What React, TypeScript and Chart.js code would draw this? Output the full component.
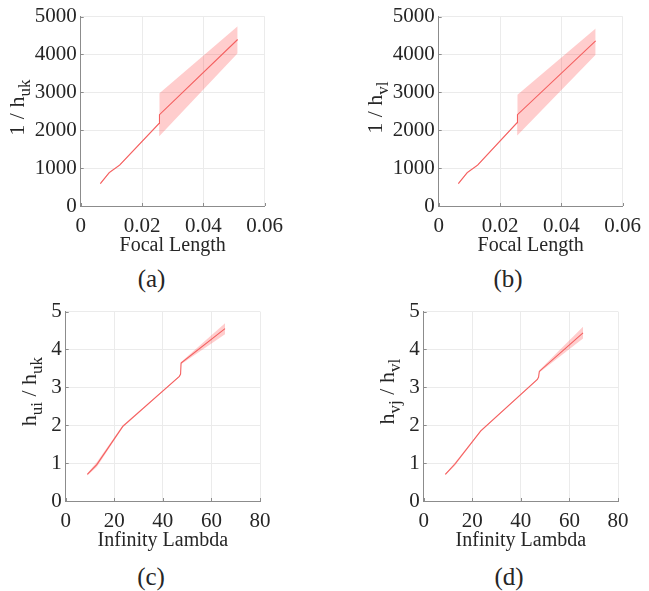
import React, { useEffect, useRef } from 'react';
import { Chart, registerables } from 'chart.js';

Chart.register(...registerables);

// ---------- data ----------
const focalX_a = [0.0064, 0.0093, 0.0127, 0.0256, 0.0257, 0.0512];
const invHuk_mean = [590, 880, 1080, 2180, 2410, 4395];
const invHuk_upper = [610, 900, 1100, 2200, 2975, 4745];
const invHuk_lower = [570, 860, 1060, 2160, 1850, 4030];

const focalX_b = [0.0064, 0.0093, 0.0127, 0.0256, 0.0257, 0.0512];
const invHvl_mean = [590, 880, 1080, 2200, 2410, 4360];
const invHvl_upper = [610, 900, 1100, 2220, 2940, 4685];
const invHvl_lower = [570, 860, 1060, 2180, 1870, 3990];

const lambdaX_c = [8.9, 12.8, 23.5, 46.8, 47.3, 47.5, 65.6];
const ratioU_mean = [0.70, 0.96, 1.97, 3.29, 3.35, 3.64, 4.55];
const ratioU_upper = [0.73, 1.02, 2.0, 3.3, 3.36, 3.67, 4.69];
const ratioU_lower = [0.67, 0.9, 1.94, 3.28, 3.34, 3.61, 4.4];

const lambdaX_d = [8.9, 12.8, 23.5, 46.8, 47.3, 47.6, 65.6];
const ratioV_mean = [0.70, 0.97, 1.85, 3.21, 3.27, 3.42, 4.44];
const ratioV_upper = [0.72, 1.01, 1.87, 3.22, 3.28, 3.45, 4.6];
const ratioV_lower = [0.68, 0.93, 1.83, 3.2, 3.26, 3.39, 4.29];

const focalTicks = { max: 0.06, step: 0.02 };
const lambdaTicks = { max: 80, step: 20 };
const invTicks = { max: 5000, step: 1000 };
const ratioTicks = { max: 5, step: 1 };

// ---------- styles ----------
const FONT = "'Liberation Serif', 'Times New Roman', Times, serif";
const LINE = '#f46060';
const BAND = 'rgba(255, 60, 60, 0.26)';
const GRID = '#ebebeb';
const AXIS = '#8c8c8c';
const TEXT = '#262626';

type Seg = { t: string; sub?: boolean };

const yTitlePlugin = {
  id: 'yTitleRich',
  afterDraw(chart: any, _args: any, opts: any) {
    const { ctx, chartArea } = chart;
    const segs: Seg[] = opts.segments || [];
    const mainFont = `22px ${FONT}`;
    const subFont = `17px ${FONT}`;
    ctx.save();
    let total = 0;
    const widths = segs.map((s) => {
      ctx.font = s.sub ? subFont : mainFont;
      const w = ctx.measureText(s.t).width;
      total += w;
      return w;
    });
    const cx = chartArea.left - opts.baseline;
    const cy = chartArea.top + opts.center;
    ctx.translate(cx, cy);
    ctx.rotate(-Math.PI / 2);
    ctx.fillStyle = TEXT;
    ctx.textBaseline = 'alphabetic';
    ctx.textAlign = 'left';
    let x = -total / 2;
    segs.forEach((s, i) => {
      ctx.font = s.sub ? subFont : mainFont;
      ctx.fillText(s.t, x, s.sub ? opts.subShift : 0);
      x += widths[i];
    });
    ctx.restore();
  },
};

const tickMarkPlugin = {
  id: 'inwardTicks',
  afterDraw(chart: any) {
    const { ctx, chartArea, scales } = chart;
    ctx.save();
    ctx.strokeStyle = AXIS;
    ctx.lineWidth = 1;
    ctx.beginPath();
    scales.x.ticks.forEach((t: any) => {
      const px = Math.round(scales.x.getPixelForValue(t.value)) + 0.5;
      ctx.moveTo(px, chartArea.bottom);
      ctx.lineTo(px, chartArea.bottom - 3);
    });
    scales.y.ticks.forEach((t: any) => {
      const py = Math.round(scales.y.getPixelForValue(t.value)) + 0.5;
      ctx.moveTo(chartArea.left, py);
      ctx.lineTo(chartArea.left + 3, py);
    });
    ctx.stroke();
    ctx.restore();
  },
};

const fmt = (v: number) => String(Math.round(v * 1e6) / 1e6);

interface PanelProps {
  left: number;
  top: number;
  xs: number[];
  mean: number[];
  upper: number[];
  lower: number[];
  xMax: number;
  xStep: number;
  yMax: number;
  yStep: number;
  xTitle: string;
  yTitle: Seg[];
  yAxisWidth: number;
  padTop: number;
  padRight: number;
  titleBaseline: number;
  titleCenter: number;
  subShift: number;
}

const CW = 291;
const CH = 258;

function Panel(p: PanelProps) {
  const ref = useRef<HTMLCanvasElement>(null);
  useEffect(() => {
    const pts = (ys: number[]) => p.xs.map((x, i) => ({ x, y: ys[i] }));
    const chart = new Chart(ref.current as HTMLCanvasElement, {
      type: 'line',
      data: {
        datasets: [
          {
            data: pts(p.mean),
            borderColor: LINE,
            borderWidth: 1.1,
            pointRadius: 0,
            fill: false,
            tension: 0,
          },
          {
            data: pts(p.lower),
            borderColor: 'rgba(0,0,0,0)',
            borderWidth: 0,
            pointRadius: 0,
            fill: false,
          },
          {
            data: pts(p.upper),
            borderColor: 'rgba(0,0,0,0)',
            borderWidth: 0,
            pointRadius: 0,
            fill: '-1',
            backgroundColor: BAND,
          },
        ],
      },
      options: {
        animation: false,
        responsive: false,
        events: [],
        layout: { padding: { left: 0, top: p.padTop, right: p.padRight, bottom: 0 } },
        plugins: {
          legend: { display: false },
          tooltip: { enabled: false },
          yTitleRich: {
            segments: p.yTitle,
            baseline: p.titleBaseline,
            center: p.titleCenter,
            subShift: p.subShift,
          },
        } as any,
        scales: {
          x: {
            type: 'linear',
            min: 0,
            max: p.xMax,
            ticks: {
              stepSize: p.xStep,
              padding: 8,
              color: TEXT,
              font: { family: FONT, size: 21 },
              maxRotation: 0,
              callback: (v: any) => fmt(Number(v)),
            },
            grid: { color: GRID, drawTicks: false, lineWidth: 1 },
            border: { color: AXIS, width: 1 },
            title: {
              display: true,
              text: p.xTitle,
              color: TEXT,
              font: { family: FONT, size: 20 },
              padding: 0,
            },
            afterFit: (s: any) => {
              s.height = CH - 206;
            },
          },
          y: {
            type: 'linear',
            min: 0,
            max: p.yMax,
            ticks: {
              stepSize: p.yStep,
              padding: 4,
              color: TEXT,
              font: { family: FONT, size: 21 },
              callback: (v: any) => fmt(Number(v)),
            },
            grid: { color: GRID, drawTicks: false, lineWidth: 1 },
            border: { color: AXIS, width: 1 },
            afterFit: (s: any) => {
              s.width = p.yAxisWidth;
            },
          },
        },
      },
      plugins: [yTitlePlugin, tickMarkPlugin],
    });
    return () => chart.destroy();
  }, []);
  return (
    <canvas
      ref={ref}
      width={CW}
      height={CH}
      style={{ position: 'absolute', left: p.left, top: p.top, width: CW, height: CH }}
    />
  );
}

function Caption({ text, x, y }: { text: string; x: number; y: number }) {
  return (
    <div
      style={{
        position: 'absolute',
        left: x,
        top: y,
        transform: 'translate(-50%, -50%)',
        fontFamily: FONT,
        fontSize: 25,
        lineHeight: 1,
        color: TEXT,
        whiteSpace: 'nowrap',
      }}
    >
      {text}
    </div>
  );
}

export default function App() {
  return (
    <div
      style={{
        position: 'fixed',
        left: 0,
        top: 0,
        width: 649,
        height: 591,
        background: '#ffffff',
        overflow: 'hidden',
      }}
    >
      <Panel
        left={0}
        top={0}
        xs={focalX_a}
        mean={invHuk_mean}
        upper={invHuk_upper}
        lower={invHuk_lower}
        xMax={focalTicks.max}
        xStep={focalTicks.step}
        yMax={invTicks.max}
        yStep={invTicks.step}
        xTitle="Focal Length"
        yTitle={[{ t: '1 / h' }, { t: 'uk', sub: true }]}
        yAxisWidth={80.7}
        padTop={12.5}
        padRight={CW - 274}
        titleBaseline={57}
        titleCenter={91}
        subShift={6}
      />
      <Panel
        left={358}
        top={0}
        xs={focalX_b}
        mean={invHvl_mean}
        upper={invHvl_upper}
        lower={invHvl_lower}
        xMax={focalTicks.max}
        xStep={focalTicks.step}
        yMax={invTicks.max}
        yStep={invTicks.step}
        xTitle="Focal Length"
        yTitle={[{ t: '1 / h' }, { t: 'vl', sub: true }]}
        yAxisWidth={80.7}
        padTop={12.5}
        padRight={CW - 274}
        titleBaseline={57}
        titleCenter={91}
        subShift={6}
      />
      <Panel
        left={0}
        top={295}
        xs={lambdaX_c}
        mean={ratioU_mean}
        upper={ratioU_upper}
        lower={ratioU_lower}
        xMax={lambdaTicks.max}
        xStep={lambdaTicks.step}
        yMax={ratioTicks.max}
        yStep={ratioTicks.step}
        xTitle="Infinity Lambda"
        yTitle={[{ t: 'h' }, { t: 'ui', sub: true }, { t: ' / h' }, { t: 'uk', sub: true }]}
        yAxisWidth={65.7}
        padTop={12.7}
        padRight={CW - 260}
        titleBaseline={30}
        titleCenter={80}
        subShift={6}
      />
      <Panel
        left={358}
        top={295}
        xs={lambdaX_d}
        mean={ratioV_mean}
        upper={ratioV_upper}
        lower={ratioV_lower}
        xMax={lambdaTicks.max}
        xStep={lambdaTicks.step}
        yMax={ratioTicks.max}
        yStep={ratioTicks.step}
        xTitle="Infinity Lambda"
        yTitle={[{ t: 'h' }, { t: 'vj', sub: true }, { t: ' / h' }, { t: 'vl', sub: true }]}
        yAxisWidth={65.7}
        padTop={12.7}
        padRight={CW - 260}
        titleBaseline={30}
        titleCenter={80}
        subShift={6}
      />
      <Caption text="(a)" x={151.5} y={278} />
      <Caption text="(b)" x={508} y={278} />
      <Caption text="(c)" x={151} y={576} />
      <Caption text="(d)" x={509} y={576} />
    </div>
  );
}
